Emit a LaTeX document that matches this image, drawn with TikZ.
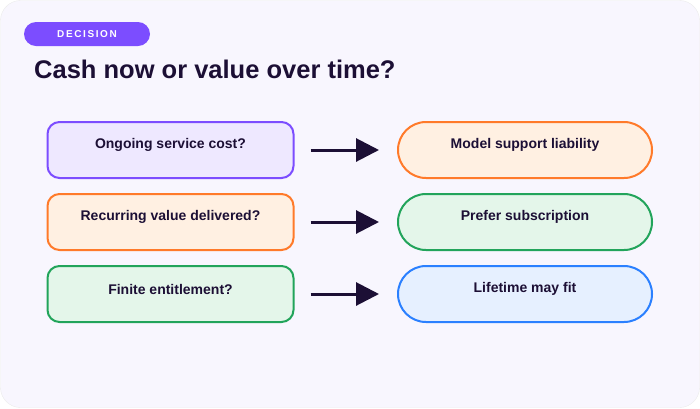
\documentclass[tikz,border=0pt]{standalone}
\usepackage{fontspec}
\setmainfont{Liberation Sans}
\newfontfamily\badgefont[LetterSpace=16]{Liberation Sans}
\usepackage{tikz}
\usetikzlibrary{arrows.meta}
\usetikzlibrary{positioning}
\definecolor{ink}{HTML}{1C0F35}
\definecolor{pagebg}{HTML}{F8F6FE}
\definecolor{purpleln}{HTML}{7C4DFF}
\definecolor{purplefl}{HTML}{EEE8FF}
\definecolor{orangeln}{HTML}{FF7A2A}
\definecolor{orangefl}{HTML}{FFF0E2}
\definecolor{greenln}{HTML}{22A45B}
\definecolor{greenfl}{HTML}{E4F6EA}
\definecolor{blueln}{HTML}{2B80FF}
\definecolor{bluefl}{HTML}{E6F0FF}
\pgfdeclarelayer{bglayer}
\pgfdeclarelayer{nodelayer}
\pgfdeclarelayer{edgelayer}
\pgfsetlayers{bglayer,edgelayer,nodelayer,main}
\tikzstyle{none}=[inner sep=0pt]
\tikzset{label/.style={inner sep=0pt, text=ink, font=\bfseries\fontsize{14}{16}\selectfont}}
\tikzset{qbox/.style={draw=#1ln, fill=#1fl, line width=2pt, rounded corners=12pt,
minimum width=246pt, minimum height=56pt, inner sep=0pt}}
\tikzset{abox/.style={draw=#1ln, fill=#1fl, line width=2pt, rounded corners=28pt,
minimum width=254pt, minimum height=56pt, inner sep=0pt}}
\tikzset{arrow/.style={draw=ink, line width=3pt, -{Triangle[length=23pt,width=23pt]},
shorten <=16pt, shorten >=18pt}}

\begin{document}
\begin{tikzpicture}[x=1pt, y=-1pt]
        \useasboundingbox (0, 0) rectangle (700, 408);
        \begin{pgfonlayer}{bglayer}
            \draw [fill=pagebg, draw=black!8, rounded corners=20pt] (0.5, 0.5) rectangle (699.5, 407.5);
        \end{pgfonlayer}
        \begin{pgfonlayer}{nodelayer}
            % badge and title
            \node [style=none, fill=purpleln, rounded corners=12pt, minimum width=126pt, minimum height=24pt] (0) at (87, 34) {};
            \node [style=none, text=white] (1) at (87, 34.5) {\badgefont\bfseries\fontsize{10}{11}\selectfont DECISION};
            \node [style=none, anchor=base west, text=ink] (2) at (34, 78) {\bfseries\fontsize{25.5}{29}\selectfont Cash now or value over time?};
            % questions
            \node [style={qbox=purple}] (3) at (170.5, 150) {};
            \node [style={qbox=orange}] (4) at (170.5, 222) {};
            \node [style={qbox=green}] (5) at (170.5, 294) {};
            \node [style=label] (6) at (170.5, 145) {Ongoing service cost?};
            \node [style=label] (7) at (170.5, 217) {Recurring value delivered?};
            \node [style=label] (8) at (170.5, 289) {Finite entitlement?};
            % outcomes
            \node [style={abox=orange}] (9) at (525, 150) {};
            \node [style={abox=green}] (10) at (525, 222) {};
            \node [style={abox=blue}] (11) at (525, 294) {};
            \node [style=label] (12) at (525, 145) {Model support liability};
            \node [style=label] (13) at (525, 217) {Prefer subscription};
            \node [style=label] (14) at (525, 289) {Lifetime may fit};
        \end{pgfonlayer}
        \begin{pgfonlayer}{edgelayer}
            \draw [arrow] (3) to (9);
            \draw [arrow] (4) to (10);
            \draw [arrow] (5) to (11);
        \end{pgfonlayer}
    \end{tikzpicture}
\end{document}
